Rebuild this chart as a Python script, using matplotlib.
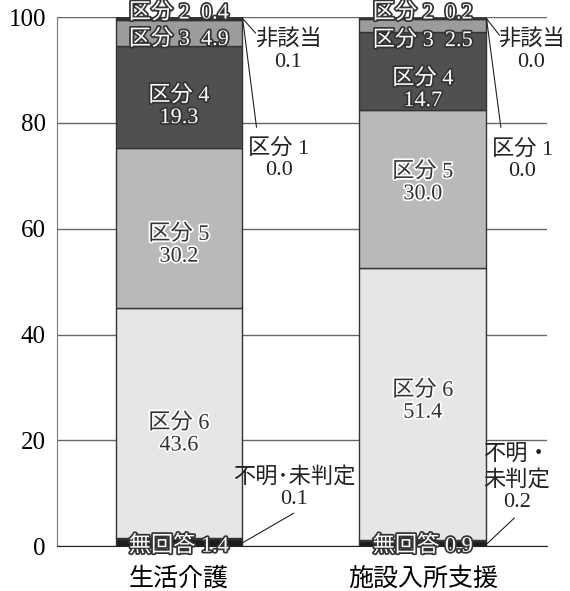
import matplotlib.pyplot as plt
import matplotlib.patheffects as pe
import numpy as np

plt.rcParams['font.family'] = ['Liberation Serif', 'Noto Sans CJK JP']

groups = ["生活介護", "施設入所支援"]
# stack order bottom -> top
segments = ["無回答", "不明･未判定", "区分 6", "区分 5", "区分 4", "区分 3", "区分 2", "区分 1", "非該当"]
life_care = [1.4, 0.1, 43.6, 30.2, 19.3, 4.9, 0.4, 0.0, 0.1]
facility = [0.9, 0.2, 51.4, 30.0, 14.7, 2.5, 0.2, 0.0, 0.0]
colors = ["#1c1c1c", "#6e6e6e", "#e6e6e8", "#b9b9bc", "#505052", "#9c9c9f", "#2a2a2a", "#777777", "#cfcfcf"]
values = np.array([life_care, facility])

fig = plt.figure(figsize=(5.7, 5.91), dpi=100)
ax = fig.add_axes([0.1, 0.076, 0.86, 0.895])

x = np.arange(len(groups))
bottom = np.zeros(len(groups))
for i, seg in enumerate(segments):
    ax.bar(x, values[:, i], 0.52, bottom=bottom, color=colors[i],
           edgecolor="#333333", linewidth=1.0, zorder=2)
    bottom += values[:, i]

ax.set_xlim(-0.5, 1.51)
ax.set_ylim(0, 100)
ax.set_yticks(np.arange(0, 101, 20))
ax.tick_params(axis='y', length=0, labelsize=18, pad=8)
ax.tick_params(axis='x', length=0, labelsize=18, pad=15)
ax.set_xticks(x)
ax.set_xticklabels(groups)
ax.grid(axis='y', color='#666666', linewidth=1.0, zorder=0)
for s in ['top', 'right']:
    ax.spines[s].set_visible(False)
ax.spines['left'].set_color('#777777')
ax.spines['bottom'].set_color('#222222')

dark_fx = [pe.withStroke(linewidth=2.5, foreground='white')]
light_fx = [pe.withStroke(linewidth=2.5, foreground='#333333')]
FS = 16

def inlabel(xc, y, s, light):
    ax.text(xc, y, s, ha='center', va='center', fontsize=FS, linespacing=1.2,
            color='white' if light else '#333333',
            path_effects=light_fx if light else dark_fx, zorder=5)

# label heights (layout only) per bar: seg2, seg3, seg4, seg5, seg6
label_y = [[100.7, 95.7, 83.0, 56.8, 21.1],
           [100.7, 95.5, 86.2, 68.6, 27.3]]

for g in range(2):
    v = values[g]
    xc = x[g]
    ly = label_y[g]
    inlabel(xc, ly[0], f"{segments[6]}  {v[6]:.1f}", True)
    inlabel(xc, ly[1], f"{segments[5]}  {v[5]:.1f}", True)
    inlabel(xc, ly[2], f"{segments[4]}\n{v[4]:.1f}", True)
    inlabel(xc, ly[3], f"{segments[3]}\n{v[3]:.1f}", False)
    inlabel(xc, ly[4], f"{segments[2]}\n{v[2]:.1f}", False)
    inlabel(xc, 0.0, f"{segments[0]} {v[0]:.1f}", True)

# outside annotations
kw = dict(fontsize=FS, ha='center', va='center', linespacing=1.2, color='#222222')
ln = dict(color='#222222', linewidth=0.8)

# 生活介護
ax.text(0.449, 93.6, f"{segments[8]}\n{life_care[8]:.1f}", **kw)
ax.plot([0.26, 0.314], [99.8, 97.0], **ln)
ax.text(0.41, 73.1, f"{segments[7]}\n{life_care[7]:.1f}", **kw)
ax.plot([0.262, 0.318], [99.4, 79.2], **ln)
ax.text(0.473, 11.0, f"{segments[1]}\n{life_care[1]:.1f}", **kw)
ax.plot([0.26, 0.47], [0.6, 6.2], **ln)

# 施設入所支援
ax.text(1.445, 93.6, f"{segments[8]}\n{facility[8]:.1f}", **kw)
ax.plot([1.26, 1.314], [99.8, 96.6], **ln)
ax.text(1.408, 72.9, f"{segments[7]}\n{facility[7]:.1f}", **kw)
ax.plot([1.262, 1.32], [99.4, 79.2], **ln)
ax.text(1.385, 12.7, f"不明・\n未判定\n{facility[1]:.1f}", **kw)
ax.plot([1.26, 1.375], [0.3, 5.3], **ln)

fig.savefig("out.png", dpi=100)
